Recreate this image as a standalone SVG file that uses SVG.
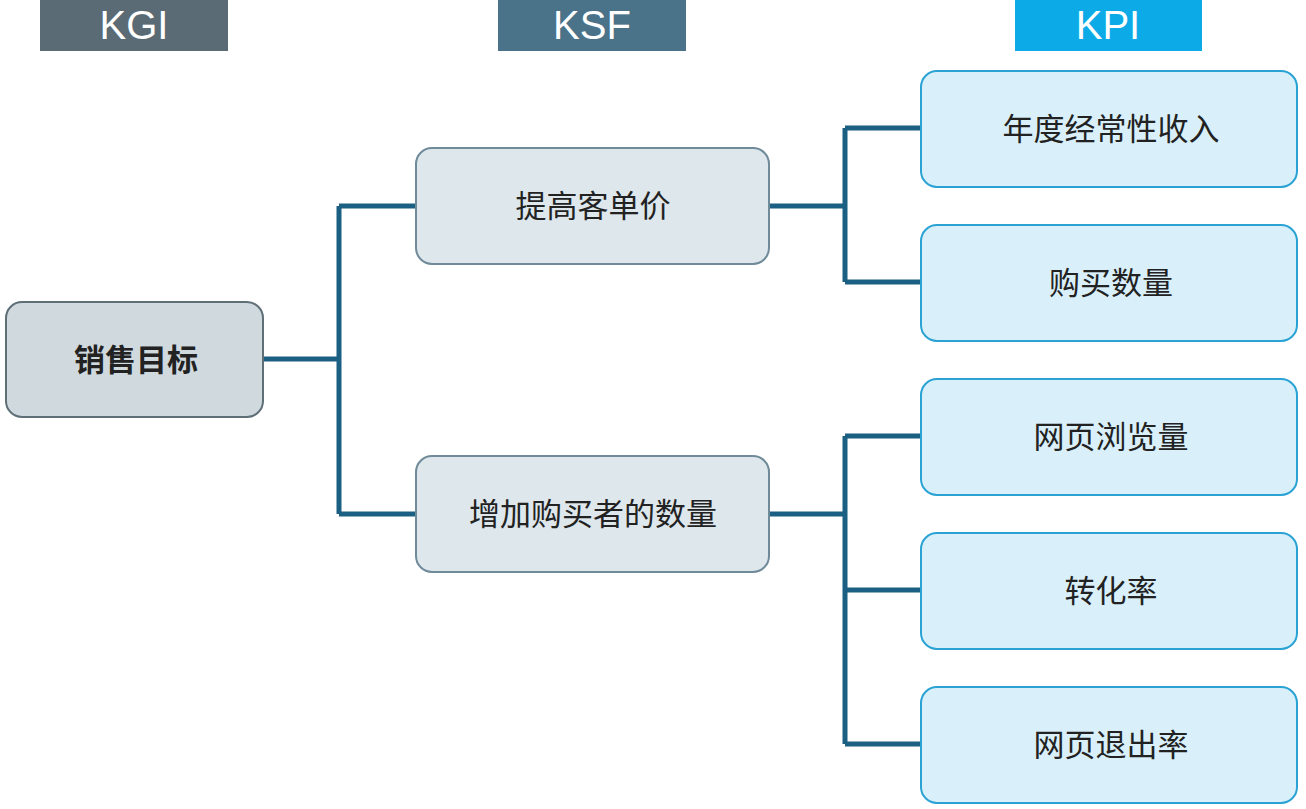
<svg xmlns="http://www.w3.org/2000/svg" width="1306" height="809" viewBox="0 0 1306 809">
<style>
.hdr{font-family:"Liberation Sans",Arial,sans-serif;font-size:40px;fill:#fff;text-anchor:middle}
.t{font-family:"Noto Sans CJK SC","Noto Sans",sans-serif;font-size:31px;fill:#222;text-anchor:middle;dominant-baseline:central}
.kgi{fill:#cfd9de;stroke:#5f6f78;stroke-width:2}
.ksf{fill:#dde7ec;stroke:#6f8a98;stroke-width:2}
.kpi{fill:#d9f0fa;stroke:#2aa3d4;stroke-width:2}
.c{fill:none;stroke:#1b5f82;stroke-width:5}
</style>
<rect width="1306" height="809" fill="#fff"/>
<g id="header-kgi"><rect x="40" y="0" width="188" height="51" fill="#5b6b76"/><text class="hdr" x="134" y="39">KGI</text></g>
<g id="header-ksf"><rect x="498" y="0" width="188" height="51" fill="#4a738a"/><text class="hdr" x="592" y="39">KSF</text></g>
<g id="header-kpi"><rect x="1015" y="0" width="187" height="51" fill="#0cabe8"/><text class="hdr" x="1108" y="39">KPI</text></g>
<g id="connectors">
<path class="c" d="M263 359H339M339 206V514M339 206H416M339 514H416"/>
<path class="c" d="M769 206H845M845 128V282M845 128H921M845 282H921"/>
<path class="c" d="M769 514H845M845 436V744M845 436H921M845 590H921M845 744H921"/>
</g>
<g id="n-goal"><rect class="kgi" x="6" y="302" width="257" height="115" rx="16"/><text class="t" x="136" y="357" font-weight="bold">销售目标</text></g>
<g id="n-price"><rect class="ksf" x="416" y="148" width="353" height="116" rx="16"/><text class="t" x="593" y="203">提高客单价</text></g>
<g id="n-buyers"><rect class="ksf" x="416" y="456" width="353" height="116" rx="16"/><text class="t" x="593" y="511">增加购买者的数量</text></g>
<g id="n-revenue"><rect class="kpi" x="921" y="71" width="376" height="116" rx="16"/><text class="t" x="1111" y="126">年度经常性收入</text></g>
<g id="n-qty"><rect class="kpi" x="921" y="225" width="376" height="116" rx="16"/><text class="t" x="1111" y="280">购买数量</text></g>
<g id="n-pv"><rect class="kpi" x="921" y="379" width="376" height="116" rx="16"/><text class="t" x="1111" y="434">网页浏览量</text></g>
<g id="n-conv"><rect class="kpi" x="921" y="533" width="376" height="116" rx="16"/><text class="t" x="1111" y="588">转化率</text></g>
<g id="n-bounce"><rect class="kpi" x="921" y="687" width="376" height="116" rx="16"/><text class="t" x="1111" y="742">网页退出率</text></g>
</svg>
